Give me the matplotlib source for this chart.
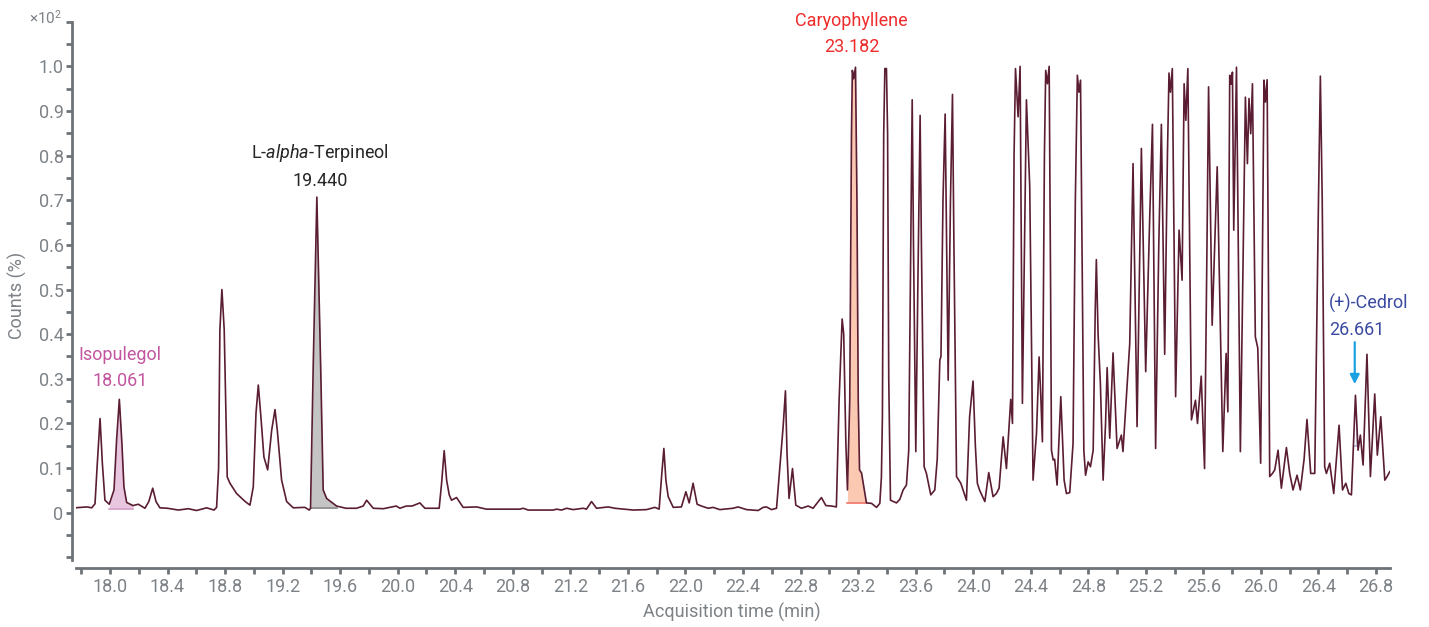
import matplotlib.pyplot as plt
from matplotlib.ticker import MultipleLocator, FuncFormatter
import numpy as np

plt.rcParams['font.family'] = ['Roboto', 'DejaVu Sans']
plt.rcParams['mathtext.fontset'] = 'custom'
plt.rcParams['mathtext.rm'] = 'Roboto'
plt.rcParams['mathtext.it'] = 'Roboto:italic'

# chromatogram trace, counts in units of x10^2 %
time_min = [
    17.757, 17.800, 17.840, 17.873, 17.896, 17.912, 17.931, 17.947, 17.965, 17.995,
    18.028, 18.046, 18.065, 18.083, 18.097, 18.116, 18.160, 18.197, 18.243, 18.270,
    18.297, 18.320, 18.347, 18.400, 18.475, 18.544, 18.602, 18.672, 18.723, 18.741,
    18.755, 18.764, 18.778, 18.794, 18.815, 18.834, 18.880, 18.940, 18.973, 18.996,
    19.015, 19.031, 19.049, 19.070, 19.096, 19.124, 19.147, 19.163, 19.193, 19.228,
    19.274, 19.355, 19.385, 19.394, 19.413, 19.438, 19.464, 19.482, 19.506, 19.575,
    19.640, 19.714, 19.760, 19.784, 19.830, 19.900, 19.990, 20.015, 20.060, 20.100,
    20.154, 20.189, 20.288, 20.305, 20.323, 20.340, 20.358, 20.374, 20.409, 20.455,
    20.548, 20.617, 20.849, 20.872, 20.907, 21.081, 21.104, 21.139, 21.174, 21.219,
    21.289, 21.312, 21.347, 21.382, 21.463, 21.509, 21.637, 21.730, 21.787, 21.817,
    21.834, 21.850, 21.864, 21.880, 21.915, 21.972, 22.003, 22.026, 22.053, 22.081,
    22.111, 22.158, 22.192, 22.239, 22.331, 22.366, 22.424, 22.505, 22.540, 22.563,
    22.598, 22.633, 22.660, 22.679, 22.695, 22.706, 22.720, 22.744, 22.767, 22.806,
    22.853, 22.887, 22.945, 22.976, 23.015, 23.049, 23.068, 23.089, 23.100, 23.115,
    23.126, 23.142, 23.154, 23.160, 23.169, 23.182, 23.192, 23.201, 23.210, 23.224,
    23.243, 23.258, 23.293, 23.328, 23.351, 23.362, 23.369, 23.378, 23.386, 23.397,
    23.405, 23.413, 23.425, 23.467, 23.490, 23.513, 23.536, 23.552, 23.566, 23.576,
    23.585, 23.601, 23.615, 23.631, 23.640, 23.659, 23.675, 23.705, 23.733, 23.750,
    23.768, 23.776, 23.790, 23.805, 23.826, 23.842, 23.856, 23.866, 23.884, 23.914,
    23.953, 23.975, 23.999, 24.015, 24.029, 24.045, 24.081, 24.108, 24.138, 24.161,
    24.180, 24.208, 24.231, 24.261, 24.273, 24.284, 24.294, 24.312, 24.326, 24.342,
    24.370, 24.393, 24.416, 24.440, 24.458, 24.470, 24.481, 24.495, 24.504, 24.516,
    24.528, 24.538, 24.544, 24.556, 24.566, 24.583, 24.609, 24.632, 24.648, 24.671,
    24.694, 24.710, 24.724, 24.735, 24.746, 24.756, 24.769, 24.781, 24.799, 24.815,
    24.834, 24.848, 24.856, 24.868, 24.884, 24.903, 24.920, 24.931, 24.949, 24.972,
    25.000, 25.030, 25.041, 25.065, 25.088, 25.111, 25.139, 25.169, 25.199, 25.227,
    25.246, 25.268, 25.290, 25.308, 25.331, 25.350, 25.361, 25.371, 25.384, 25.407,
    25.431, 25.452, 25.466, 25.478, 25.492, 25.517, 25.545, 25.559, 25.585, 25.608,
    25.625, 25.636, 25.661, 25.696, 25.735, 25.758, 25.770, 25.783, 25.792, 25.802,
    25.811, 25.830, 25.857, 25.892, 25.906, 25.917, 25.929, 25.941, 25.961, 25.978,
    25.998, 26.021, 26.031, 26.043, 26.061, 26.080, 26.096, 26.119, 26.142, 26.177,
    26.200, 26.223, 26.251, 26.274, 26.300, 26.320, 26.346, 26.374, 26.400, 26.413,
    26.426, 26.443, 26.455, 26.478, 26.506, 26.543, 26.567, 26.590, 26.611, 26.629,
    26.657, 26.675, 26.691, 26.710, 26.737, 26.761, 26.791, 26.809, 26.833, 26.861,
    26.877, 26.895,
]
counts = [
    0.011, 0.012, 0.013, 0.011, 0.020, 0.111, 0.211, 0.111, 0.028, 0.019,
    0.051, 0.163, 0.254, 0.155, 0.058, 0.023, 0.016, 0.019, 0.010, 0.025,
    0.055, 0.025, 0.011, 0.010, 0.006, 0.009, 0.005, 0.011, 0.006, 0.012,
    0.100, 0.410, 0.500, 0.410, 0.080, 0.066, 0.043, 0.025, 0.017, 0.058,
    0.223, 0.286, 0.215, 0.125, 0.096, 0.185, 0.231, 0.185, 0.073, 0.025,
    0.011, 0.012, 0.006, 0.010, 0.334, 0.707, 0.334, 0.051, 0.032, 0.015,
    0.010, 0.010, 0.015, 0.028, 0.010, 0.009, 0.015, 0.010, 0.015, 0.015,
    0.022, 0.010, 0.010, 0.066, 0.139, 0.073, 0.040, 0.028, 0.034, 0.012,
    0.013, 0.008, 0.008, 0.010, 0.006, 0.006, 0.008, 0.006, 0.010, 0.007,
    0.010, 0.008, 0.025, 0.010, 0.013, 0.010, 0.006, 0.007, 0.012, 0.008,
    0.081, 0.144, 0.073, 0.036, 0.012, 0.013, 0.047, 0.022, 0.066, 0.019,
    0.015, 0.010, 0.012, 0.007, 0.010, 0.013, 0.007, 0.005, 0.012, 0.013,
    0.007, 0.010, 0.118, 0.193, 0.273, 0.133, 0.032, 0.099, 0.017, 0.010,
    0.015, 0.010, 0.034, 0.016, 0.015, 0.013, 0.252, 0.434, 0.400, 0.155,
    0.051, 0.252, 0.849, 0.991, 0.972, 0.998, 0.700, 0.252, 0.096, 0.089,
    0.051, 0.022, 0.021, 0.012, 0.021, 0.080, 0.215, 0.850, 0.995, 0.995,
    0.850, 0.300, 0.028, 0.022, 0.030, 0.051, 0.062, 0.140, 0.600, 0.925,
    0.600, 0.137, 0.500, 0.890, 0.600, 0.103, 0.088, 0.040, 0.051, 0.120,
    0.342, 0.350, 0.700, 0.893, 0.297, 0.700, 0.937, 0.600, 0.081, 0.066,
    0.028, 0.215, 0.295, 0.150, 0.066, 0.050, 0.025, 0.090, 0.036, 0.043,
    0.055, 0.170, 0.099, 0.254, 0.200, 0.800, 0.995, 0.887, 1.000, 0.245,
    0.925, 0.730, 0.073, 0.178, 0.349, 0.260, 0.159, 0.800, 0.991, 0.961,
    1.000, 0.500, 0.140, 0.118, 0.120, 0.062, 0.260, 0.073, 0.043, 0.045,
    0.155, 0.700, 0.980, 0.942, 0.969, 0.600, 0.140, 0.084, 0.114, 0.103,
    0.140, 0.450, 0.567, 0.400, 0.290, 0.073, 0.200, 0.325, 0.167, 0.358,
    0.144, 0.174, 0.137, 0.260, 0.379, 0.782, 0.193, 0.816, 0.316, 0.663,
    0.870, 0.144, 0.600, 0.870, 0.355, 0.800, 0.985, 0.942, 0.995, 0.260,
    0.633, 0.521, 0.961, 0.879, 0.995, 0.208, 0.252, 0.200, 0.306, 0.099,
    0.600, 0.954, 0.420, 0.775, 0.137, 0.357, 0.226, 0.980, 0.960, 0.987,
    0.633, 0.998, 0.137, 0.931, 0.782, 0.928, 0.849, 0.961, 0.394, 0.369,
    0.111, 0.969, 0.920, 0.970, 0.081, 0.088, 0.096, 0.140, 0.055, 0.146,
    0.088, 0.051, 0.084, 0.051, 0.120, 0.209, 0.088, 0.088, 0.700, 0.978,
    0.700, 0.103, 0.088, 0.111, 0.043, 0.196, 0.051, 0.066, 0.043, 0.040,
    0.263, 0.140, 0.174, 0.107, 0.355, 0.081, 0.266, 0.129, 0.215, 0.073,
    0.081, 0.092,
]

# identified compounds: label, RT, integration window, baseline, colours
compounds = ['Isopulegol', 'L-$\\mathit{alpha}$-Terpineol', 'Caryophyllene', '(+)-Cedrol']
rts = ['18.061', '19.440', '23.182', '26.661']
win_start = [17.995, 19.394, 23.126, 26.657]
win_end = [18.160, 19.575, 23.258, 26.675]
base_level = [0.008, 0.010, 0.021, 0.150]
text_colors = ['#c2569f', '#262626', '#ee2c2c', '#3a4aa0']
fill_colors = ['#e9c6df', '#c4c4c4', '#fbc8b2', '#c9cbe8']
edge_colors = ['#d6a2c8', '#8c8c8c', '#f07a6e', '#a8acd8']
label_x = [18.069, 19.459, 23.156, 26.471]
label_y = [0.324, 0.776, 1.073, 0.439]

t = np.array(time_min)
c = np.array(counts)

fig = plt.figure(figsize=(14.29, 6.27), dpi=100)
ax = fig.add_axes([0.0532, 0.1075, 0.9195, 0.8579])

grey = '#7d8287'
spine_grey = '#6e7378'

for i in range(len(compounds)):
    m = (t >= win_start[i]) & (t <= win_end[i])
    ax.fill_between(t[m], c[m], base_level[i], color=fill_colors[i], lw=0, zorder=1)
    ax.plot([win_start[i], win_end[i]], [base_level[i], base_level[i]],
            color=edge_colors[i], lw=1.2, zorder=1.5)

ax.plot(t, c, color='#5a1d33', lw=1.2, zorder=2)

for i in range(len(compounds)):
    ha = 'left' if i == 3 else 'center'
    ax.text(label_x[i], label_y[i], compounds[i] + '\n' + rts[i], color=text_colors[i],
            fontsize=13, ha=ha, va='center', multialignment=ha, linespacing=1.55,
            clip_on=False)

# arrow pointing at the cedrol peak
ax.annotate('', xy=(26.652, 0.288), xytext=(26.652, 0.382),
            arrowprops=dict(arrowstyle='-|>', color='#1ba1e2', lw=1.6,
                            mutation_scale=14, shrinkA=0, shrinkB=0))

ax.set_xlim(17.764, 26.897)
ax.set_ylim(-0.105, 1.1)

ax.xaxis.set_major_locator(MultipleLocator(0.4))
ax.xaxis.set_minor_locator(MultipleLocator(0.2))
ax.xaxis.set_major_formatter(FuncFormatter(lambda v, p: f'{v:.1f}'))
ax.yaxis.set_major_locator(MultipleLocator(0.1))
ax.yaxis.set_minor_locator(MultipleLocator(0.05))
ax.yaxis.set_major_formatter(FuncFormatter(lambda v, p: '0' if abs(v) < 1e-9 else f'{v:.1f}'))

ax.set_yticks([v / 10 for v in range(0, 11)])

for s in ['top', 'right']:
    ax.spines[s].set_visible(False)
ax.spines['left'].set_position(('outward', 3))
ax.spines['bottom'].set_position(('outward', 6))
for s in ['left', 'bottom']:
    ax.spines[s].set_color(spine_grey)
    ax.spines[s].set_linewidth(2)

ax.tick_params(which='both', length=4, width=2, color=spine_grey,
               labelcolor=grey, labelsize=13)
ax.tick_params(axis='y', pad=2)
ax.tick_params(axis='x', pad=3)

fig.text(0.0119, 0.5295, 'Counts (%)', rotation=90, color=grey, fontsize=13,
         ha='center', va='center')
fig.text(0.5122, 0.0239, 'Acquisition time (min)', color=grey, fontsize=13,
         ha='center', va='center')
fig.text(0.0315, 0.971, '×10$^2$', color=grey, fontsize=11, ha='center', va='center')

plt.savefig('out.png', dpi=100)
